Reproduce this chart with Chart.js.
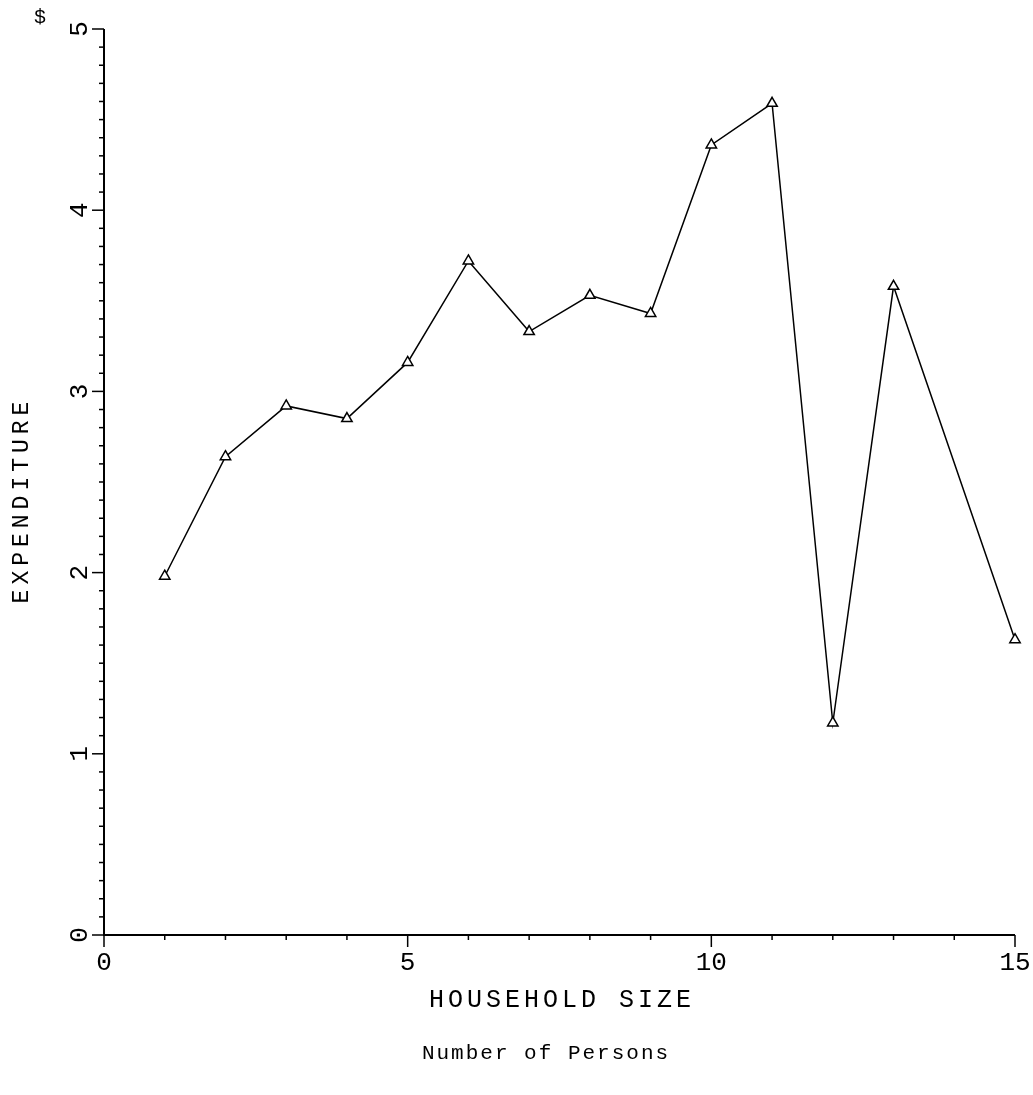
<!DOCTYPE html>
<html>
<head>
<meta charset="utf-8">
<script src="https://cdn.jsdelivr.net/npm/chart.js@4/dist/chart.umd.min.js"></script>
<style>
  html, body { margin: 0; padding: 0; background: #fff; }
  #wrap { width: 1033px; height: 1095px; }
</style>
</head>
<body>
<div id="wrap"><canvas id="chart" width="1033" height="1095"></canvas></div>
<script>
/* Household size vs expenditure - line with open triangles */

const householdSize = [1, 2, 3, 4, 5, 6, 7, 8, 9, 10, 11, 12, 13, 15];
const expenditure   = [1.98, 2.64, 2.92, 2.85, 3.16, 3.72, 3.33, 3.53, 3.43, 4.36, 4.59, 1.17, 3.58, 1.63];

const xMajorTicks = [0, 5, 10, 15];
const xMinorTicks = [1, 2, 3, 4, 6, 7, 8, 9, 11, 12, 13, 14];
const yMajorTicks = [0, 1, 2, 3, 4, 5];
const yMinorStep = 0.1;

const FONT = '"Liberation Mono", "DejaVu Sans Mono", monospace';

// draws axes, ticks and all text by hand (typewriter look)
const axesPlugin = {
  id: 'axesPlugin',
  afterDraw(chart) {
    const { ctx, scales: { x, y } } = chart;
    const x0 = x.getPixelForValue(0);
    const y0 = y.getPixelForValue(0);

    ctx.save();
    ctx.strokeStyle = '#000';
    ctx.fillStyle = '#000';
    ctx.lineWidth = 2;

    // axis lines
    ctx.beginPath();
    ctx.moveTo(x0, y.getPixelForValue(5));
    ctx.lineTo(x0, y0);
    ctx.lineTo(x.getPixelForValue(15), y0);
    ctx.stroke();

    // y ticks (pointing left)
    ctx.lineWidth = 1.5;
    for (let v = 0; v <= 5.0001; v += yMinorStep) {
      const py = y.getPixelForValue(v);
      const major = Math.abs(v - Math.round(v)) < 1e-6;
      ctx.beginPath();
      ctx.moveTo(x0, py);
      ctx.lineTo(x0 - (major ? 12 : 5), py);
      ctx.stroke();
    }

    // x ticks (pointing down)
    xMinorTicks.forEach(v => {
      const px = x.getPixelForValue(v);
      ctx.beginPath();
      ctx.moveTo(px, y0);
      ctx.lineTo(px, y0 + 5);
      ctx.stroke();
    });
    xMajorTicks.forEach(v => {
      const px = x.getPixelForValue(v);
      ctx.beginPath();
      ctx.moveTo(px, y0);
      ctx.lineTo(px, y0 + 12);
      ctx.stroke();
    });

    // x tick labels
    ctx.font = '26px ' + FONT;
    ctx.textAlign = 'center';
    ctx.textBaseline = 'middle';
    xMajorTicks.forEach(v => {
      ctx.fillText(String(v), x.getPixelForValue(v), y0 + 28);
    });

    // y tick labels, rotated
    yMajorTicks.forEach(v => {
      ctx.save();
      ctx.translate(x0 - 24, y.getPixelForValue(v));
      ctx.rotate(-Math.PI / 2);
      ctx.fillText(String(v), 0, 0);
      ctx.restore();
    });

    // y axis title
    ctx.save();
    ctx.font = '23px ' + FONT;
    ctx.letterSpacing = '5px';
    ctx.translate(22, 500);
    ctx.rotate(-Math.PI / 2);
    ctx.fillText('EXPENDITURE', 0, 0);
    ctx.restore();

    ctx.font = '20px ' + FONT;
    ctx.letterSpacing = '0px';
    ctx.fillText('$', 40, 18);

    // x axis titles
    ctx.font = '25px ' + FONT;
    ctx.letterSpacing = '4px';
    ctx.fillText('HOUSEHOLD SIZE', 562, 1000);
    ctx.font = '21px ' + FONT;
    ctx.letterSpacing = '2px';
    ctx.fillText('Number of Persons', 546, 1053);

    ctx.restore();
  }
};

new Chart(document.getElementById('chart'), {
  type: 'line',
  data: {
    datasets: [{
      data: householdSize.map((h, i) => ({ x: h, y: expenditure[i] })),
      borderColor: '#000',
      borderWidth: 1.5,
      tension: 0,
      fill: false,
      clip: false,
      pointStyle: 'triangle',
      pointRadius: 6,
      pointBackgroundColor: '#fff',
      pointBorderColor: '#000',
      pointBorderWidth: 1.5
    }]
  },
  options: {
    responsive: false,
    animation: false,
    layout: { padding: { left: 104, right: 18, top: 29, bottom: 160 } },
    plugins: { legend: { display: false }, tooltip: { enabled: false } },
    scales: {
      x: { type: 'linear', min: 0, max: 15, display: false },
      y: { type: 'linear', min: 0, max: 5, display: false }
    }
  },
  plugins: [axesPlugin]
});
</script>
</body>
</html>
